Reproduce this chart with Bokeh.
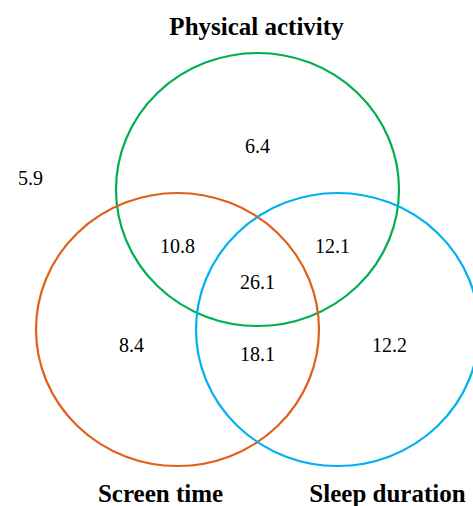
from bokeh.plotting import figure
from bokeh.models import Range1d, ColumnDataSource
from bokeh.core.properties import value
from bokeh.embed import file_html
from bokeh.resources import INLINE

# ---- data ----
set_names = ["Physical activity", "Screen time", "Sleep duration"]
set_colors = ["#00B050", "#E0601A", "#00B0F0"]
region_names = ["None", "PA only", "PA & ST", "PA & SD", "All three", "ST only", "ST & SD", "SD only"]
region_values = [5.9, 6.4, 10.8, 12.1, 26.1, 8.4, 18.1, 12.2]

# ---- layout (pixel-like coordinates, y downward) ----
circle_x = [257, 177, 337]
circle_y = [189, 329, 329]
circle_w = [283, 283, 283]
circle_h = [273, 273, 273]

set_label_x = [256, 160, 387]
set_label_y = [26, 493, 493]

region_x = [30, 257, 177, 332, 257, 131, 257, 389]
region_y = [177, 145, 245, 245, 281, 344, 353, 344]

W, H = 473, 506
p = figure(width=W, height=H, output_backend="svg", toolbar_location=None,
           x_range=Range1d(0, W), y_range=Range1d(H, 0),
           min_border=0, outline_line_color=None)
p.axis.visible = False
p.grid.visible = False
p.background_fill_color = "white"
p.border_fill_color = "white"

circles = ColumnDataSource(dict(x=circle_x, y=circle_y, w=circle_w, h=circle_h, c=set_colors))
p.ellipse(x="x", y="y", width="w", height="h", source=circles,
          fill_alpha=0, line_color="c", line_width=2.2)

regions = ColumnDataSource(dict(x=region_x, y=region_y,
                                t=[f"{v:.1f}" for v in region_values]))
p.text(x="x", y="y", text="t", source=regions, text_align="center",
       text_baseline="middle", text_font=value("Liberation Serif"),
       text_font_size="20px", text_color="black")

labels = ColumnDataSource(dict(x=set_label_x, y=set_label_y, t=set_names))
p.text(x="x", y="y", text="t", source=labels, text_align="center",
       text_baseline="middle", text_font=value("Liberation Serif"),
       text_font_style="bold", text_font_size="25px", text_color="black")

open("out.html", "w").write(file_html(p, INLINE))
